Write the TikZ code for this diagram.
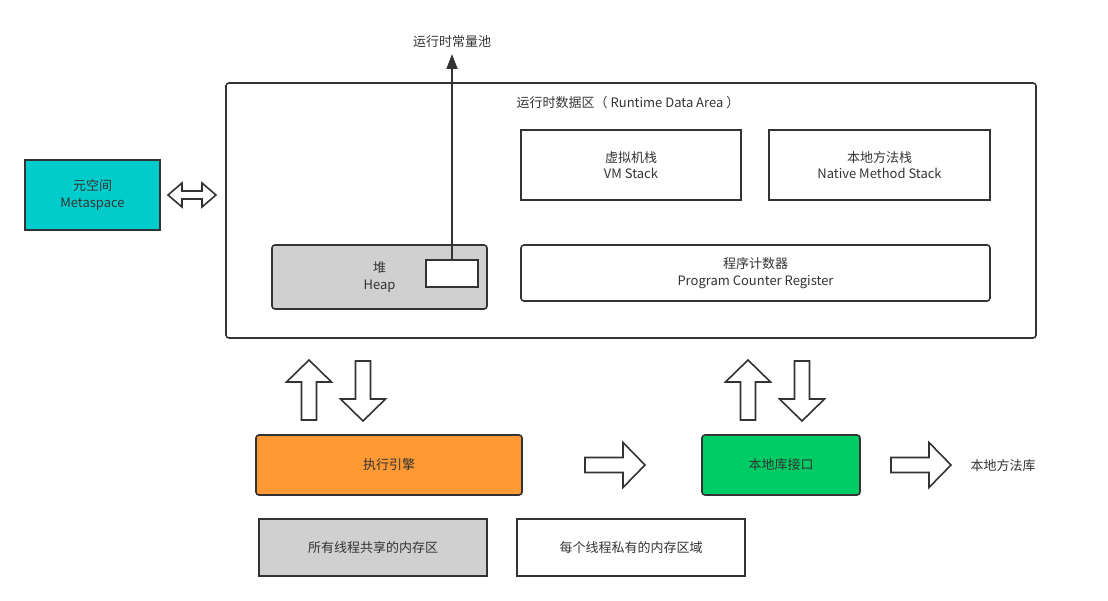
\documentclass[tikz,border=0pt]{standalone}
\usepackage{fontspec}
\setmainfont{Noto Sans CJK SC}
\usetikzlibrary{arrows.meta}
\definecolor{linegray}{HTML}{333333}
\definecolor{heapgray}{HTML}{D0D0D0}
\definecolor{metateal}{HTML}{00CCCC}
\definecolor{execorange}{HTML}{FF9933}
\definecolor{jnigreen}{HTML}{00CC66}
\begin{document}
\begin{tikzpicture}[x=1pt, y=-1pt,
  txt/.style={text=linegray, font=\fontsize{13}{16.5}\selectfont, align=center},
  box/.style={draw=linegray, line width=1.6pt, txt, inner sep=0pt},
  rbox/.style={box, rounded corners=3pt},
  arrowline/.style={draw=linegray, line width=1.6pt, fill=white, line join=miter},
  blkarrow/.pic={\path[arrowline] (0,-7.5) -- (38,-7.5) -- (38,-22.5) -- (60,0) -- (38,22.5) -- (38,7.5) -- (0,7.5) -- cycle;}]
\useasboundingbox (0,0) rectangle (1108,601);
% runtime data area
\node[rbox, minimum width=810pt, minimum height=255pt] (rda) at (631,210.5) {};
\node[txt] (rdatitle) at (628,103) {运行时数据区（ Runtime Data Area ）};
\node[box, minimum width=220pt, minimum height=70pt] (vmstk) at (631,165) {虚拟机栈\\VM Stack};
\node[box, minimum width=221pt, minimum height=70pt] (natstk) at (879.5,165) {本地方法栈\\Native Method Stack};
\node[rbox, minimum width=469pt, minimum height=56pt] (pcr) at (755.5,273) {程序计数器\\Program Counter Register};
\node[rbox, fill=heapgray, minimum width=215pt, minimum height=64pt] (heap) at (379.5,277) {堆\\Heap};
\node[box, fill=white, minimum width=52pt, minimum height=27pt] (pool) at (452,273.5) {};
\node[txt] (poollbl) at (452,42) {运行时常量池};
\coordinate (pooltip) at (452,54);
\draw[linegray, line width=1.6pt, -{Triangle[width=11pt,length=15pt]}] (pool.north) -- (pooltip);
% metaspace
\node[box, fill=metateal, minimum width=135pt, minimum height=70pt] (meta) at (92.5,195) {元空间\\Metaspace};
\path[arrowline] (168,195) -- (182,183) -- (182,191) -- (202,191) -- (202,183) -- (216,195)
  -- (202,207) -- (202,199) -- (182,199) -- (182,207) -- cycle;
% execution engine and native interface
\pic[rotate=90] at (309,420) {blkarrow};
\pic[rotate=-90] at (363,361) {blkarrow};
\pic[rotate=90] at (748,420) {blkarrow};
\pic[rotate=-90] at (802,361) {blkarrow};
\node[rbox, fill=execorange, minimum width=266pt, minimum height=60pt] (exec) at (389,465) {执行引擎};
\pic at (585,465) {blkarrow};
\node[rbox, fill=jnigreen, minimum width=158pt, minimum height=60pt] (jni) at (781,465) {本地库接口};
\pic at (891,465) {blkarrow};
\node[txt] (natlib) at (1003,466) {本地方法库};
% legend
\node[box, fill=heapgray, minimum width=228pt, minimum height=57pt] (shared) at (373,547.5) {所有线程共享的内存区};
\node[box, minimum width=228pt, minimum height=57pt] (private) at (631,547.5) {每个线程私有的内存区域};
\end{tikzpicture}
\end{document}
